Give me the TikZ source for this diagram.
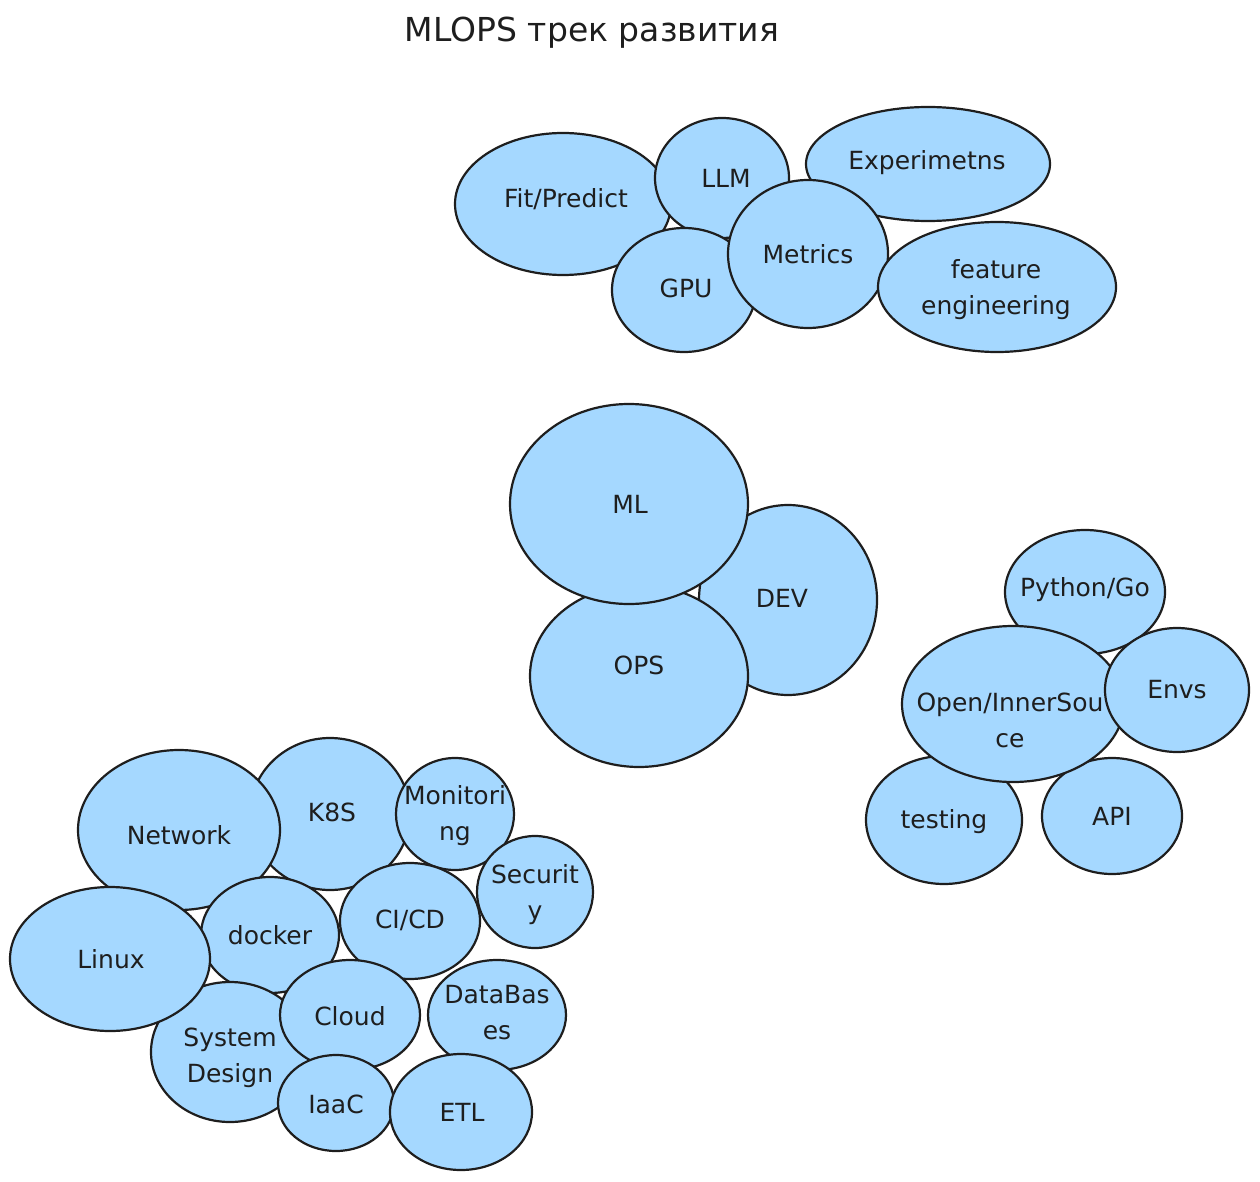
\documentclass[tikz,border=0pt]{standalone}
\usepackage{fontspec}
\setmainfont{DejaVu Sans}
\usetikzlibrary{shapes.geometric}
\definecolor{bubfill}{HTML}{A5D8FF}
\definecolor{ink}{HTML}{1E1E1E}
\tikzset{
  bub/.style={ellipse, draw=ink, fill=bubfill, line width=2.2pt, inner sep=0pt},
  lbl/.style={text=ink, align=center, inner sep=0pt, font=\fontsize{25pt}{36pt}\selectfont},
  ttl/.style={text=ink, inner sep=0pt, font=\fontsize{33pt}{38pt}\selectfont}
}
\begin{document}
\begin{tikzpicture}[x=1pt,y=-1pt]
\useasboundingbox (0,0) rectangle (1260,1182);
\node[ttl] (title) at (592,33) {MLOPS трек развития};
% top cluster
\node[bub, minimum width=216pt, minimum height=142pt] (fit) at (563,204) {};
\node[lbl] (fit-t) at (566,199) {Fit/Predict};
\node[bub, minimum width=134pt, minimum height=120pt] (llm) at (722,178) {};
\node[lbl] (llm-t) at (726,178) {LLM};
\node[bub, minimum width=144pt, minimum height=124pt] (gpu) at (684,290) {};
\node[lbl] (gpu-t) at (686,288) {GPU};
\node[bub, minimum width=244pt, minimum height=114pt] (exp) at (928,164) {};
\node[lbl] (exp-t) at (927,163) {Experimetns};
\node[bub, minimum width=160pt, minimum height=148pt] (met) at (808,254) {};
\node[lbl] (met-t) at (808,254) {Metrics};
\node[bub, minimum width=238pt, minimum height=130pt] (feat) at (997,287) {};
\node[lbl] (feat-t) at (996,290) {feature\\engineering};
% middle cluster
\node[bub, minimum width=178pt, minimum height=190pt] (dev) at (788,600) {};
\node[lbl] (dev-t) at (782,598) {DEV};
\node[bub, minimum width=218pt, minimum height=182pt] (ops) at (639,676) {};
\node[lbl] (ops-t) at (639,665) {OPS};
\node[bub, minimum width=238pt, minimum height=200pt] (ml) at (629,504) {};
\node[lbl] (ml-t) at (630,504) {ML};
% right cluster
\node[bub, minimum width=160pt, minimum height=124pt] (py) at (1085,592) {};
\node[lbl] (py-t) at (1085,590) {Python/Go};
\node[bub, minimum width=156pt, minimum height=128pt] (test) at (944,820) {};
\node[lbl] (test-t) at (944,822) {testing};
\node[bub, minimum width=140pt, minimum height=116pt] (api) at (1112,816) {};
\node[lbl] (api-t) at (1112,816) {API};
\node[bub, minimum width=222pt, minimum height=156pt] (open) at (1013,704) {};
\node[lbl] (open-t) at (1010,720) {Open/InnerSou\\ce};
\node[bub, minimum width=144pt, minimum height=124pt] (envs) at (1177,690) {};
\node[lbl] (envs-t) at (1177,690) {Envs};
% bottom-left cluster
\node[bub, minimum width=160pt, minimum height=152pt] (k8s) at (330,814) {};
\node[lbl] (k8s-t) at (332,812) {K8S};
\node[bub, minimum width=202pt, minimum height=160pt] (net) at (179,830) {};
\node[lbl] (net-t) at (179,835) {Network};
\node[bub, minimum width=118pt, minimum height=112pt] (mon) at (455,814) {};
\node[lbl] (mon-t) at (455,816) {Monitori\\ng};
\node[bub, minimum width=140pt, minimum height=116pt] (cicd) at (410,921) {};
\node[lbl] (cicd-t) at (410,920) {CI/CD};
\node[bub, minimum width=116pt, minimum height=112pt] (sec) at (535,892) {};
\node[lbl] (sec-t) at (535,895) {Securit\\y};
\node[bub, minimum width=138pt, minimum height=116pt] (dock) at (270,935) {};
\node[lbl] (dock-t) at (270,935) {docker};
\node[bub, minimum width=158pt, minimum height=140pt] (sys) at (230,1052) {};
\node[lbl] (sys-t) at (230,1058) {System\\Design};
\node[bub, minimum width=200pt, minimum height=144pt] (linux) at (110,959) {};
\node[lbl] (linux-t) at (111,959) {Linux};
\node[bub, minimum width=140pt, minimum height=110pt] (cloud) at (350,1015) {};
\node[lbl] (cloud-t) at (350,1016) {Cloud};
\node[bub, minimum width=138pt, minimum height=110pt] (db) at (497,1015) {};
\node[lbl] (db-t) at (497,1013) {DataBas\\es};
\node[bub, minimum width=116pt, minimum height=96pt] (iaac) at (336,1103) {};
\node[lbl] (iaac-t) at (336,1104) {IaaC};
\node[bub, minimum width=142pt, minimum height=116pt] (etl) at (461,1112) {};
\node[lbl] (etl-t) at (462,1112) {ETL};
\end{tikzpicture}
\end{document}
